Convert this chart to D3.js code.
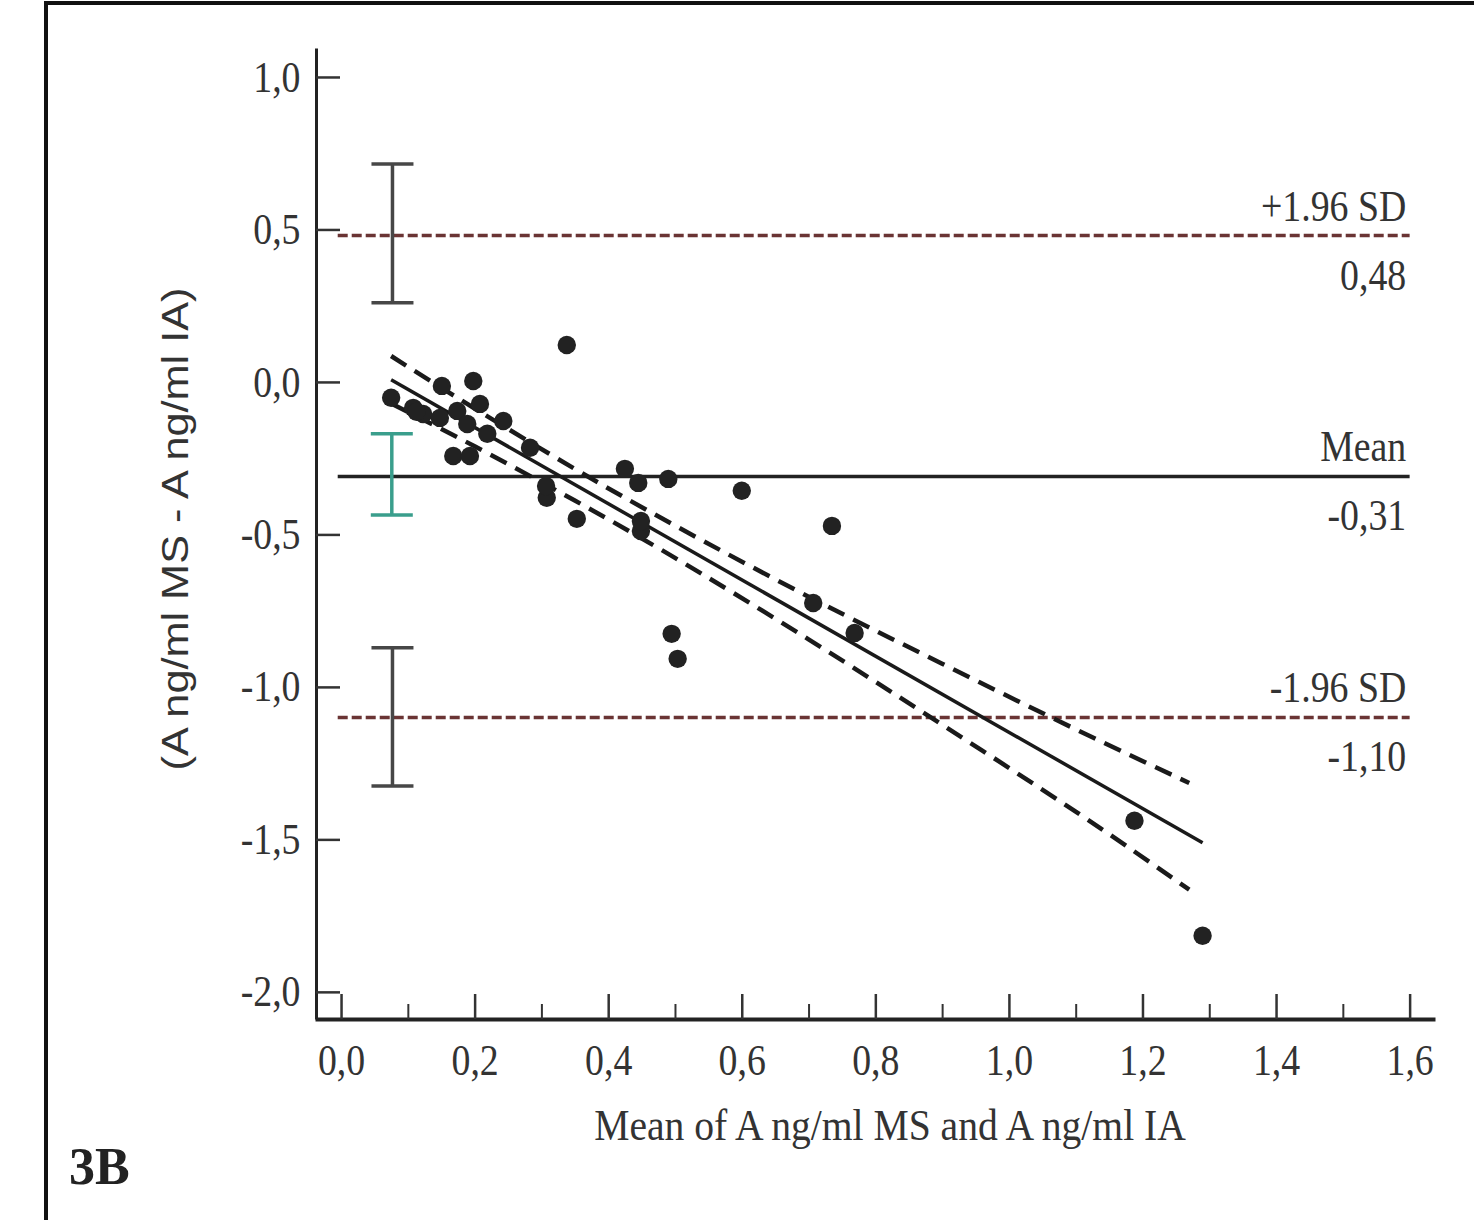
<!DOCTYPE html>
<html>
<head>
<meta charset="utf-8">
<script src="https://cdn.jsdelivr.net/npm/d3@7"></script>
<style>
  html, body { margin: 0; padding: 0; background: #fff; }
  svg { display: block; }
</style>
</head>
<body>
<svg id="chart" width="1474" height="1220"></svg>
<script>
// ---- Data ----
const pointsX = [0.075, 0.338, 0.198, 0.151, 0.108, 0.123, 0.174, 0.208, 0.189, 0.243, 0.219, 0.168, 0.193, 0.283, 0.308, 0.307, 0.353, 0.425, 0.445, 0.490, 0.600, 0.449, 0.735, 0.495, 0.504, 0.707, 0.769, 1.188, 1.290, 0.148, 0.449, 0.113];
const pointsY = [-0.052, 0.121, 0.003, -0.013, -0.085, -0.105, -0.095, -0.072, -0.138, -0.128, -0.170, -0.243, -0.243, -0.216, -0.380, -0.341, -0.449, -0.285, -0.331, -0.318, -0.357, -0.489, -0.472, -0.826, -0.908, -0.725, -0.823, -1.439, -1.816, -0.118, -0.456, -0.098];

const regX = [0.075, 1.29];
const regY = [0.007, -1.511];

const bandX = [0.075, 0.2, 0.35, 0.5, 0.7, 0.9, 1.1, 1.27];
const bandUpper = [0.085, -0.087, -0.285, -0.471, -0.704, -0.924, -1.139, -1.315];
const bandLower = [-0.071, -0.211, -0.389, -0.577, -0.844, -1.124, -1.409, -1.665];

const refValues = [0.48, -0.31, -1.10];
const refNames = ["+1.96 SD", "Mean", "-1.96 SD"];
const refValueLabels = ["0,48", "-0,31", "-1,10"];
const refDashed = [true, false, true];
const refLineX = [-0.005, 1.6];

const ciX = [0.077, 0.076, 0.077];
const ciLow = [0.26, -0.436, -1.325];
const ciHigh = [0.715, -0.17, -0.872];
const ciColors = ["#474747", "#3a9e8c", "#474747"];

const xTicks = [0, 0.2, 0.4, 0.6, 0.8, 1.0, 1.2, 1.4, 1.6];
const xMinorTicks = [0.1, 0.3, 0.5, 0.7, 0.9, 1.1, 1.3, 1.5];
const yTicks = [-2.0, -1.5, -1.0, -0.5, 0.0, 0.5, 1.0];

const xTitle = "Mean of A ng/ml MS and A ng/ml IA";
const yTitle = "(A ng/ml MS - A ng/ml IA)";
const panelLabel = "3B";

// ---- Drawing ----
const svg = d3.select("#chart");
const SERIF = "'Liberation Serif', 'Times New Roman', serif";
const TXT = "#333";
const SX = 0.86;

const x = d3.scaleLinear().domain([-0.039, 1.638]).range([315, 1435]);
const y = d3.scaleLinear().domain([-2.089, 1.095]).range([1019, 48]);
const fmt = d => d3.format(".1f")(d).replace(".", ",").replace("−", "-");

// frame
svg.append("path")
  .attr("d", "M46,1220 L46,3 L1474,3")
  .attr("fill", "none").attr("stroke", "#111").attr("stroke-width", 4);

// reference lines (limits of agreement and mean)
refValues.forEach((v, i) => {
  svg.append("line")
    .attr("x1", x(refLineX[0])).attr("x2", x(refLineX[1]))
    .attr("y1", y(v)).attr("y2", y(v))
    .attr("stroke", refDashed[i] ? "#6a3434" : "#222")
    .attr("stroke-width", refDashed[i] ? 3.5 : 3.5)
    .attr("stroke-dasharray", refDashed[i] ? "10,4" : null);
  const tx = x(1.595);
  svg.append("g").attr("transform", `translate(${tx},${y(v) - 15}) scale(${SX},1)`)
    .append("text").attr("text-anchor", "end")
    .attr("font-family", SERIF).attr("font-size", 44).attr("fill", TXT)
    .text(refNames[i]);
  svg.append("g").attr("transform", `translate(${tx},${y(v) + 54}) scale(${SX},1)`)
    .append("text").attr("text-anchor", "end")
    .attr("font-family", SERIF).attr("font-size", 44).attr("fill", TXT)
    .text(refValueLabels[i]);
});

// CI error bars
ciX.forEach((cx, i) => {
  const g = svg.append("g").attr("stroke", ciColors[i]).attr("stroke-width", 3.5);
  const px = x(cx);
  g.append("line").attr("x1", px).attr("x2", px).attr("y1", y(ciHigh[i])).attr("y2", y(ciLow[i]));
  g.append("line").attr("x1", px - 21).attr("x2", px + 21).attr("y1", y(ciHigh[i])).attr("y2", y(ciHigh[i]));
  g.append("line").attr("x1", px - 21).attr("x2", px + 21).attr("y1", y(ciLow[i])).attr("y2", y(ciLow[i]));
});

// regression line and confidence band
const line = d3.line().x(d => x(d[0])).y(d => y(d[1]));
svg.append("path")
  .attr("d", line(regX.map((v, i) => [v, regY[i]])))
  .attr("fill", "none").attr("stroke", "#1a1a1a").attr("stroke-width", 3.5);
const bandLine = d3.line().x(d => x(d[0])).y(d => y(d[1])).curve(d3.curveNatural);
[bandUpper, bandLower].forEach(arr => {
  svg.append("path")
    .attr("d", bandLine(bandX.map((v, i) => [v, arr[i]])))
    .attr("fill", "none").attr("stroke", "#1a1a1a").attr("stroke-width", 4.5)
    .attr("stroke-dasharray", "18,10");
});

// points
svg.append("g").selectAll("circle")
  .data(pointsX.map((v, i) => [v, pointsY[i]]))
  .join("circle")
  .attr("cx", d => x(d[0])).attr("cy", d => y(d[1]))
  .attr("r", 9.2).attr("fill", "#222");

// axes
const xAxis = d3.axisBottom(x).tickValues(xTicks).tickSize(-25).tickSizeOuter(0).tickPadding(25).tickFormat(fmt);
const gx = svg.append("g").attr("transform", "translate(0,1019)").call(xAxis);
gx.select(".domain").attr("stroke", "#222").attr("stroke-width", 4);
gx.selectAll(".tick line").attr("stroke", "#333").attr("stroke-width", 2.5);
gx.selectAll(".tick text").attr("font-family", SERIF).attr("font-size", 44).attr("fill", TXT)
  .attr("transform", `scale(${SX},1)`);

const xMinor = d3.axisBottom(x).tickValues(xMinorTicks).tickSize(-15).tickSizeOuter(0).tickFormat("");
const gxm = svg.append("g").attr("transform", "translate(0,1019)").call(xMinor);
gxm.select(".domain").remove();
gxm.selectAll(".tick line").attr("stroke", "#333").attr("stroke-width", 2);

const yAxis = d3.axisLeft(y).tickValues(yTicks).tickSize(-24).tickSizeOuter(0).tickPadding(18).tickFormat(fmt);
const gy = svg.append("g").attr("transform", "translate(316,0)").call(yAxis);
gy.select(".domain").attr("stroke", "#222").attr("stroke-width", 3);
gy.selectAll(".tick line").attr("stroke", "#333").attr("stroke-width", 2.5);
gy.selectAll(".tick text").attr("font-family", SERIF).attr("font-size", 44).attr("fill", TXT)
  .attr("transform", `scale(${SX},1)`);

// axis titles
svg.append("g").attr("transform", `translate(890,1140) scale(0.9,1)`)
  .append("text").attr("text-anchor", "middle")
  .attr("font-family", SERIF).attr("font-size", 44).attr("fill", TXT)
  .text(xTitle);

svg.append("text")
  .attr("transform", "translate(188,529) rotate(-90)")
  .attr("text-anchor", "middle")
  .attr("font-family", "'Liberation Sans', Arial, sans-serif")
  .attr("font-size", 36).attr("fill", TXT)
  .attr("textLength", 483).attr("lengthAdjust", "spacingAndGlyphs")
  .text(yTitle);

svg.append("text")
  .attr("x", 69).attr("y", 1184)
  .attr("font-family", SERIF).attr("font-weight", "bold")
  .attr("font-size", 52).attr("fill", "#222")
  .text(panelLabel);
</script>
</body>
</html>
